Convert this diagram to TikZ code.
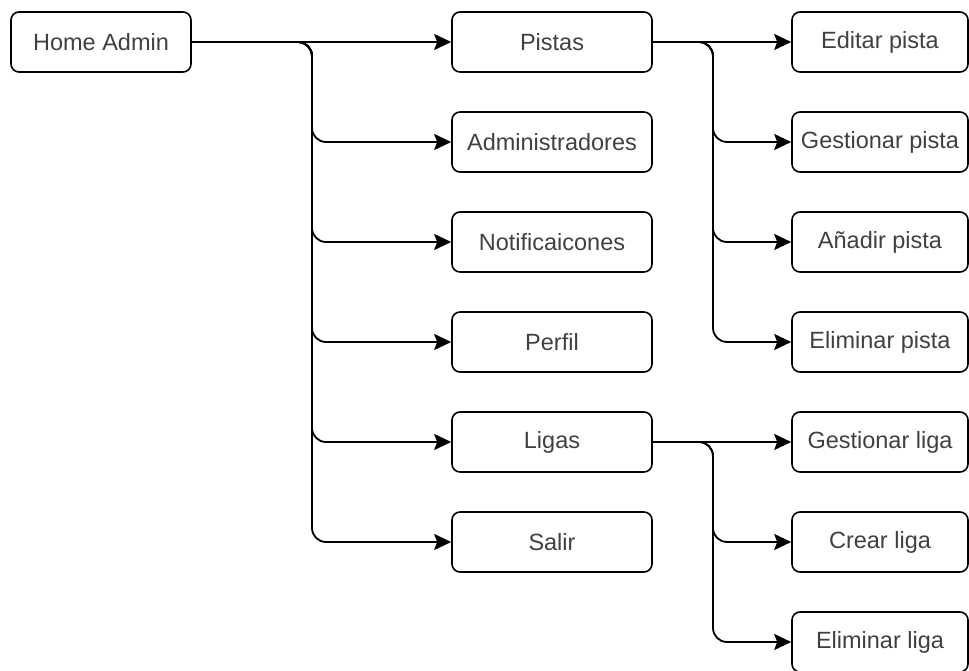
\documentclass[tikz,border=0pt]{standalone}
\usepackage{fontspec}
\setmainfont{Liberation Sans}
\usetikzlibrary{arrows.meta}

\begin{document}
\begin{tikzpicture}[x=1pt,y=-1pt,
    box/.style={draw,line width=1.6pt,rounded corners=8pt,minimum height=60pt,
      inner sep=0pt,text=black!75,font=\fontsize{23.5}{28}\selectfont},
    mainbox/.style={box,minimum width=180pt},
    menubox/.style={box,minimum width=200pt},
    subbox/.style={box,minimum width=176pt},
    link/.style={line width=1.8pt,rounded corners=14pt,
      -{Stealth[length=17pt,width=16pt,inset=3pt]}}]
                    \useasboundingbox (0,0) rectangle (969,671);
                    \node[mainbox] (home) at (101,42) {Home Admin};
                    \node[menubox] (pistas) at (552,42) {Pistas};
                    \node[menubox] (admins) at (552,142) {Administradores};
                    \node[menubox] (notif) at (552,242) {Notificaicones};
                    \node[menubox] (perfil) at (552,342) {Perfil};
                    \node[menubox] (ligas) at (552,442) {Ligas};
                    \node[menubox] (salir) at (552,542) {Salir};
                    \node[subbox] (editar) at (880,42) {Editar pista};
                    \node[subbox] (gestpista) at (880,142) {Gestionar pista};
                    \node[subbox] (anadir) at (880,242) {Añadir pista};
                    \node[subbox] (elimpista) at (880,342) {Eliminar pista};
                    \node[subbox] (gestliga) at (880,442) {Gestionar liga};
                    \node[subbox] (crear) at (880,542) {Crear liga};
                    \node[subbox] (elimliga) at (880,642) {Eliminar liga};
                    \coordinate (hubhome) at (312,42);
                    \coordinate (hubpistas) at (713,42);
                    \coordinate (hubligas) at (713,442);
                    % menu principal
                    \draw[link] (home.east) -- (pistas.west);
                    \draw[link] (home.east) -- (hubhome) |- (admins.west);
                    \draw[link] (home.east) -- (hubhome) |- (notif.west);
                    \draw[link] (home.east) -- (hubhome) |- (perfil.west);
                    \draw[link] (home.east) -- (hubhome) |- (ligas.west);
                    \draw[link] (home.east) -- (hubhome) |- (salir.west);
                    % pistas
                    \draw[link] (pistas.east) -- (editar.west);
                    \draw[link] (pistas.east) -- (hubpistas) |- (gestpista.west);
                    \draw[link] (pistas.east) -- (hubpistas) |- (anadir.west);
                    \draw[link] (pistas.east) -- (hubpistas) |- (elimpista.west);
                    % ligas
                    \draw[link] (ligas.east) -- (gestliga.west);
                    \draw[link] (ligas.east) -- (hubligas) |- (crear.west);
                    \draw[link] (ligas.east) -- (hubligas) |- (elimliga.west);
\end{tikzpicture}
\end{document}
